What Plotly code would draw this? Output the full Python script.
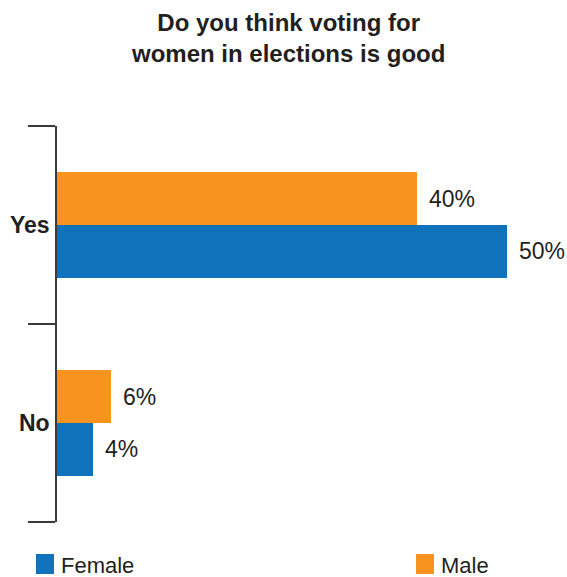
import plotly.graph_objects as go

# Survey responses (percent of respondents)
categories = ["No", "Yes"]          # bottom to top
series_names = ["Female", "Male"]
female_values = [4, 50]
male_values = [6, 40]
series_values = [female_values, male_values]
series_colors = ["#0f72ba", "#f7931e"]

title_text = "Do you think voting for<br>women in elections is good"

W, H = 567, 577
M_L, M_R, M_T, M_B = 57, 15, 126, 55
TEXT = "#231f20"
FONT = "Liberation Sans, Arial, sans-serif"

fig = go.Figure()
for name, vals, col in zip(series_names, series_values, series_colors):
    fig.add_trace(go.Bar(
        y=categories, x=vals, name=name, orientation="h",
        marker=dict(color=col, line=dict(width=0)),
        showlegend=False,
    ))

# value labels just past the end of each bar
bar_half = (1 - 0.465) / 4
for s, vals in enumerate(series_values):
    offset = -bar_half if s == 0 else bar_half
    for i, v in enumerate(vals):
        fig.add_annotation(
            x=v, y=i + offset, xref="x", yref="y",
            text=f"{v}%", showarrow=False, xanchor="left", yanchor="middle",
            xshift=10, font=dict(size=23, color=TEXT, family=FONT),
        )

# helpers: pixel position -> paper coordinates
plot_w = W - M_L - M_R
plot_h = H - M_T - M_B


def px_x(p):
    return (p - M_L) / plot_w


def px_y(p):
    return (H - M_B - p) / plot_h


# two-line title
fig.add_annotation(x=px_x(288), y=px_y(7), xref="paper", yref="paper",
                   text=title_text, showarrow=False, xanchor="center", yanchor="top",
                   align="center",
                   font=dict(size=24, color=TEXT, family=FONT, weight="bold"))

# legend row along the bottom
legend_x = [36, 416]
for name, col, lx in zip(series_names, series_colors, legend_x):
    fig.add_shape(type="rect", xref="paper", yref="paper",
                  x0=px_x(lx), x1=px_x(lx + 18), y0=px_y(574), y1=px_y(554),
                  fillcolor=col, line=dict(width=0))
    fig.add_annotation(x=px_x(lx + 23), y=px_y(565), xref="paper", yref="paper",
                       text=name, showarrow=False, xanchor="left", yanchor="middle",
                       font=dict(size=22, color=TEXT, family=FONT))

fig.update_layout(
    width=W, height=H,
    margin=dict(l=M_L, r=M_R, t=M_T, b=M_B),
    paper_bgcolor="white", plot_bgcolor="white",
    barmode="group", bargap=0.465, bargroupgap=0,
    xaxis=dict(range=[0, 55], visible=False, automargin=False),
    yaxis=dict(
        type="category", categoryorder="array", categoryarray=categories,
        range=[-0.5, 1.5], automargin=False,
        showline=True, linecolor="#3a3a3a", linewidth=1.5,
        ticks="outside", tickson="boundaries", ticklen=27, tickwidth=1.5, tickcolor="#3a3a3a",
        ticklabelstandoff=1,
        tickfont=dict(size=23, color=TEXT, family=FONT, weight="bold"),
        showgrid=False, zeroline=False,
    ),
)

fig.write_html("out.html")
